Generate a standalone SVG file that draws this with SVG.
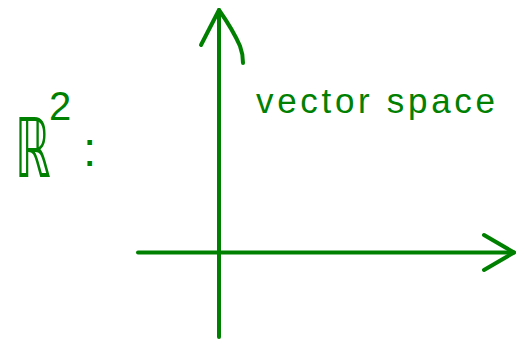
<svg xmlns="http://www.w3.org/2000/svg" width="516" height="340" viewBox="0 0 516 340">
  <style>
    .ax { fill: none; stroke: #008000; stroke-width: 4; stroke-linecap: round; stroke-linejoin: round; }
    .t { fill: #008000; font-family: "Liberation Sans", "DejaVu Sans", sans-serif; }
  </style>
  <rect width="516" height="340" fill="#ffffff"/>
  <g id="axes">
    <path class="ax" d="M219,337 L219,10"/>
    <path class="ax" d="M201,45 L219,10 Q233,30 240,46 Q243,54 243,63"/>
    <path class="ax" d="M138,252.5 L514,252.5"/>
    <path class="ax" d="M484,235 L514,252.5 L484,270"/>
  </g>
  <g id="label-vector-space">
    <text class="t" x="256" y="113" font-size="35" textLength="239" lengthAdjust="spacing">vector space</text>
  </g>
  <g id="label-R2">
    <text class="t" transform="translate(15,177) scale(0.55,1)" font-size="82" style="font-family: 'DejaVu Sans', sans-serif">ℝ</text>
    <text class="t" x="49" y="120" font-size="40">2</text>
    <text class="t" x="83" y="166" font-size="48">:</text>
  </g>
</svg>
